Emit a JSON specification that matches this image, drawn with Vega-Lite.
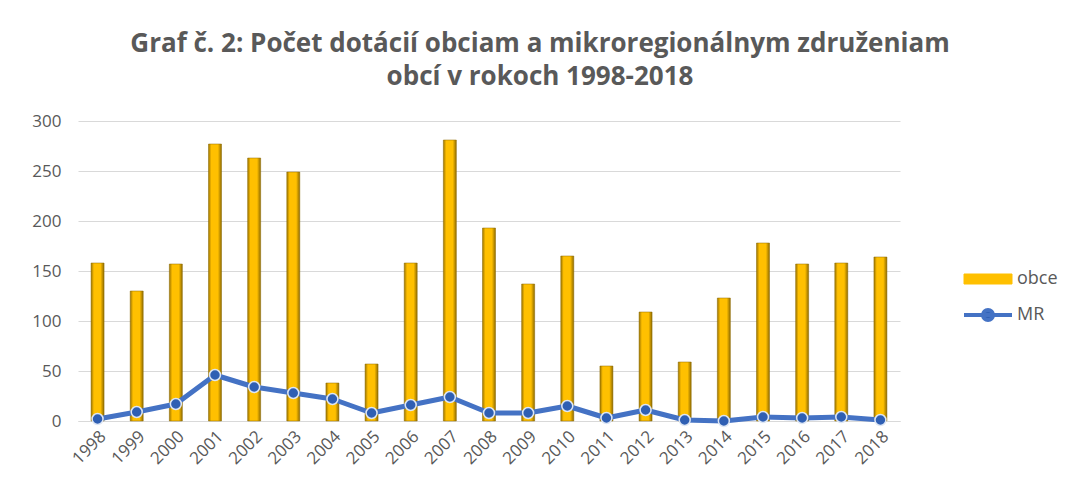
{
  "$schema": "https://vega.github.io/schema/vega-lite/v6.json",
  "width": 822,
  "height": 300,
  "autosize": {"type": "none"},
  "padding": {"left": 78, "top": 121, "right": 168, "bottom": 68},
  "background": "white",
  "config": {
    "view": {"stroke": null},
    "font": "Open Sans",
    "axis": {"labelFont": "Open Sans", "labelColor": "#595959", "labelFontSize": 17}
  },
  "title": {
    "text": ["Graf č. 2: Počet dotácií obciam a mikroregionálnym združeniam", "obcí v rokoch 1998-2018"],
    "font": "Open Sans",
    "fontSize": 26,
    "fontWeight": "bold",
    "color": "#595959",
    "anchor": "middle",
    "frame": "group",
    "dx": 51,
    "lineHeight": 33,
    "offset": 22
  },
  "data": {
    "values": [
      {"year": "1998", "obce": 158, "MR": 2},
      {"year": "1999", "obce": 130, "MR": 9},
      {"year": "2000", "obce": 157, "MR": 17},
      {"year": "2001", "obce": 277, "MR": 46},
      {"year": "2002", "obce": 263, "MR": 34},
      {"year": "2003", "obce": 249, "MR": 28},
      {"year": "2004", "obce": 38, "MR": 22},
      {"year": "2005", "obce": 57, "MR": 8},
      {"year": "2006", "obce": 158, "MR": 16},
      {"year": "2007", "obce": 281, "MR": 24},
      {"year": "2008", "obce": 193, "MR": 8},
      {"year": "2009", "obce": 137, "MR": 8},
      {"year": "2010", "obce": 165, "MR": 15},
      {"year": "2011", "obce": 55, "MR": 3},
      {"year": "2012", "obce": 109, "MR": 11},
      {"year": "2013", "obce": 59, "MR": 1},
      {"year": "2014", "obce": 123, "MR": 0},
      {"year": "2015", "obce": 178, "MR": 4},
      {"year": "2016", "obce": 157, "MR": 3},
      {"year": "2017", "obce": 158, "MR": 4},
      {"year": "2018", "obce": 164, "MR": 1}
    ]
  },
  "encoding": {
    "x": {
      "field": "year",
      "type": "ordinal",
      "title": null,
      "scale": {"paddingInner": 0.2, "paddingOuter": 0.1},
      "axis": {
        "labelAngle": -45,
        "ticks": false,
        "domainColor": "#D9D9D9",
        "domainWidth": 1,
        "labelPadding": 7,
        "grid": false
      }
    }
  },
  "layer": [
    {
      "mark": {
        "type": "bar",
        "size": 13,
        "stroke": "#8C6A00",
        "strokeWidth": 0.5,
        "fill": {
          "gradient": "linear",
          "x1": 0, "x2": 1, "y1": 0, "y2": 0,
          "stops": [
            {"offset": 0, "color": "#9C7400"},
            {"offset": 0.22, "color": "#FFC000"},
            {"offset": 0.72, "color": "#FFC000"},
            {"offset": 1, "color": "#8F6B00"}
          ]
        }
      },
      "encoding": {
        "y": {
          "field": "obce",
          "type": "quantitative",
          "title": null,
          "scale": {"domain": [0, 300]},
          "axis": {
            "values": [0, 50, 100, 150, 200, 250, 300],
            "domain": false,
            "ticks": false,
            "gridColor": "#D9D9D9",
            "labelPadding": 17
          }
        }
      }
    },
    {
      "mark": {"type": "line", "strokeWidth": 5, "strokeCap": "round", "strokeJoin": "round"},
      "encoding": {
        "y": {"field": "MR", "type": "quantitative"},
        "color": {
          "datum": "MR",
          "scale": {"domain": ["obce", "MR"], "range": ["#FFC000", "#4472C4"]},
          "legend": {
            "title": null,
            "orient": "none",
            "legendX": 901,
            "legendY": 149,
            "padding": 0,
            "symbolSize": 100,
            "labelOffset": 20,
            "labelFontSize": 18,
            "labelFont": "Open Sans",
            "labelColor": "#595959",
            "rowPadding": 14,
            "encode": {
              "symbols": {
                "update": {
                  "shape": {"signal": "datum.value === 'obce' ? 'M-4.8,-1H4.8V1H-4.8Z' : 'M-4.8,0H4.8M-1,0A1,1 0 1,0 1,0A1,1 0 1,0 -1,0Z'"},
                  "fill": {"signal": "datum.value === 'obce' ? '#FFC000' : '#2F5FB3'"},
                  "stroke": {"signal": "datum.value === 'obce' ? '#9C7400' : '#4472C4'"},
                  "strokeWidth": {"signal": "datum.value === 'obce' ? 1 : 4"},
                  "opacity": {"value": 1}
                }
              }
            }
          }
        }
      }
    },
    {
      "mark": {"type": "point", "filled": true, "size": 120, "fill": "#2F5FB3", "stroke": "#DDE6F4", "strokeWidth": 1.5, "opacity": 1},
      "encoding": {
        "y": {"field": "MR", "type": "quantitative"}
      }
    }
  ]
}
